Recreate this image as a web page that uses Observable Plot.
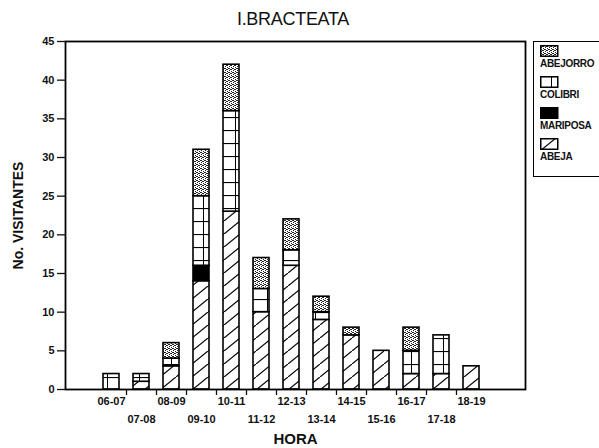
<!DOCTYPE html>
<html>
<head>
<meta charset="utf-8">
<script src="https://cdn.jsdelivr.net/npm/d3@7"></script>
<script src="https://cdn.jsdelivr.net/npm/@observablehq/plot@0.6"></script>
<style>
  html, body { margin: 0; padding: 0; background: #fff; }
  body { width: 599px; height: 448px; position: relative; overflow: hidden; font-family: "Liberation Sans", Arial, sans-serif; }
  #title { position: absolute; left: 0; top: 9px; width: 586px; text-align: center; font-size: 18px; color: #111; letter-spacing: -0.3px; }
  #chart { position: absolute; left: 0; top: 0; }
  #legend { position: absolute; left: 533px; top: 41px; width: 80px; height: 136px; border: 1.5px solid #000; box-sizing: border-box; }
  .item { position: absolute; left: 6px; }
  .item span { display: block; font-size: 10px; font-weight: bold; letter-spacing: -0.3px; color: #111; margin-top: 1px; }
  .item svg { display: block; }
</style>
</head>
<body>
<div id="title">I.BRACTEATA</div>
<div id="chart"></div>
<div id="legend"></div>
<script>
// ---- data ----
const horas = ["06-07","07-08","08-09","09-10","10-11","11-12","12-13","13-14","14-15","15-16","16-17","17-18","18-19"];
const especies = ["ABEJA","MARIPOSA","COLIBRI","ABEJORRO"];
const abeja    = [0, 1, 3, 14, 23, 10, 16, 9, 7, 5, 2, 2, 3];
const mariposa = [0, 0, 0,  2,  0,  0,  0, 0, 0, 0, 0, 0, 0];
const colibri  = [2, 1, 1,  9, 13,  3,  2, 1, 0, 0, 3, 5, 0];
const abejorro = [0, 0, 2,  6,  6,  4,  4, 2, 1, 0, 3, 0, 0];
const yTicks = [0, 5, 10, 15, 20, 25, 30, 35, 40, 45];
const legendOrder = ["ABEJORRO","COLIBRI","MARIPOSA","ABEJA"];
const xLabel = "HORA";
const yLabel = "No. VISITANTES";

const series = {ABEJA: abeja, MARIPOSA: mariposa, COLIBRI: colibri, ABEJORRO: abejorro};
const rows = [];
horas.forEach((h, i) => {
  especies.forEach(s => { if (series[s][i] > 0) rows.push({hora: h, especie: s, value: series[s][i]}); });
});

const fills = {ABEJA: "url(#p-abeja)", MARIPOSA: "#000", COLIBRI: "url(#p-colibri)", ABEJORRO: "url(#p-abejorro)"};

const font = "Liberation Sans, Arial, sans-serif";

const svg = Plot.plot({
  width: 599,
  height: 448,
  marginLeft: 65,
  marginRight: 74,
  marginTop: 41,
  marginBottom: 59,
  style: {fontFamily: font, fontWeight: "bold", color: "#111", background: "transparent"},
  x: {type: "band", domain: horas, range: [96, 486], paddingInner: 0.47, paddingOuter: 0.235, axis: null},
  y: {domain: [0, 45], axis: null},
  color: {domain: especies, range: especies.map(s => fills[s])},
  marks: [
    Plot.barY(rows, {x: "hora", y: "value", fill: "especie", stroke: "#000", strokeWidth: 1.6}),
    Plot.frame({stroke: "#000", strokeWidth: 1.8}),
    Plot.axisY({ticks: yTicks, tickSize: 8, tickPadding: 3, fontSize: 11, fontWeight: "bold", label: null, strokeWidth: 1.3}),
    Plot.axisX({ticks: horas.slice(0, -1), tickFormat: () => "", tickSize: 6, dx: 15, label: null, strokeWidth: 1.3}),
    Plot.axisX({ticks: horas.filter((d, i) => i % 2 === 0), tickSize: 0, tickPadding: 8, fontSize: 11, fontWeight: "bold", label: null}),
    Plot.axisX({ticks: horas.filter((d, i) => i % 2 === 1), tickSize: 0, tickPadding: 26, fontSize: 11, fontWeight: "bold", label: null}),
    Plot.text([xLabel], {frameAnchor: "bottom", dy: 50, text: d => d, fontSize: 15, fontWeight: "bold", lineAnchor: "middle", textAnchor: "middle"}),
    Plot.text([yLabel], {frameAnchor: "left", dx: -47, rotate: -90, text: d => d, fontSize: 14, fontWeight: "bold", lineAnchor: "middle", textAnchor: "middle"})
  ]
});

// ---- pattern definitions ----
const defs = d3.select(svg).insert("defs", ":first-child");
const pa = defs.append("pattern").attr("id", "p-abeja").attr("patternUnits", "userSpaceOnUse").attr("width", 16).attr("height", 13);
pa.append("rect").attr("width", 16).attr("height", 13).attr("fill", "#fff");
pa.append("line").attr("x1", 0).attr("y1", 13).attr("x2", 16).attr("y2", 0).attr("stroke", "#000").attr("stroke-width", 1.2);
const pc = defs.append("pattern").attr("id", "p-colibri").attr("patternUnits", "userSpaceOnUse").attr("width", 16).attr("height", 13);
pc.append("rect").attr("width", 16).attr("height", 13).attr("fill", "#fff");
pc.append("line").attr("x1", 0).attr("y1", 0.5).attr("x2", 16).attr("y2", 0.5).attr("stroke", "#000").attr("stroke-width", 1.2);
pc.append("line").attr("x1", 11.5).attr("y1", 0).attr("x2", 11.5).attr("y2", 13).attr("stroke", "#000").attr("stroke-width", 1);
const pb = defs.append("pattern").attr("id", "p-abejorro").attr("patternUnits", "userSpaceOnUse").attr("width", 4).attr("height", 4);
pb.append("rect").attr("width", 4).attr("height", 4).attr("fill", "#fff");
[[0,0],[2,1],[1,2],[3,3],[3,1],[1,0]].forEach(([x, y]) =>
  pb.append("rect").attr("x", x).attr("y", y).attr("width", 1).attr("height", 1).attr("fill", "#222"));

document.getElementById("chart").appendChild(svg);

// ---- legend ----
const legend = document.getElementById("legend");
legendOrder.forEach((s, i) => {
  const item = document.createElement("div");
  item.className = "item";
  item.style.top = (3 + i * 31) + "px";
  item.innerHTML = `<svg width="19" height="12"><rect x="0.75" y="0.75" width="17" height="10.5" fill="${fills[s]}" stroke="#000" stroke-width="1.5"/></svg><span>${s}</span>`;
  legend.appendChild(item);
});
</script>
</body>
</html>
